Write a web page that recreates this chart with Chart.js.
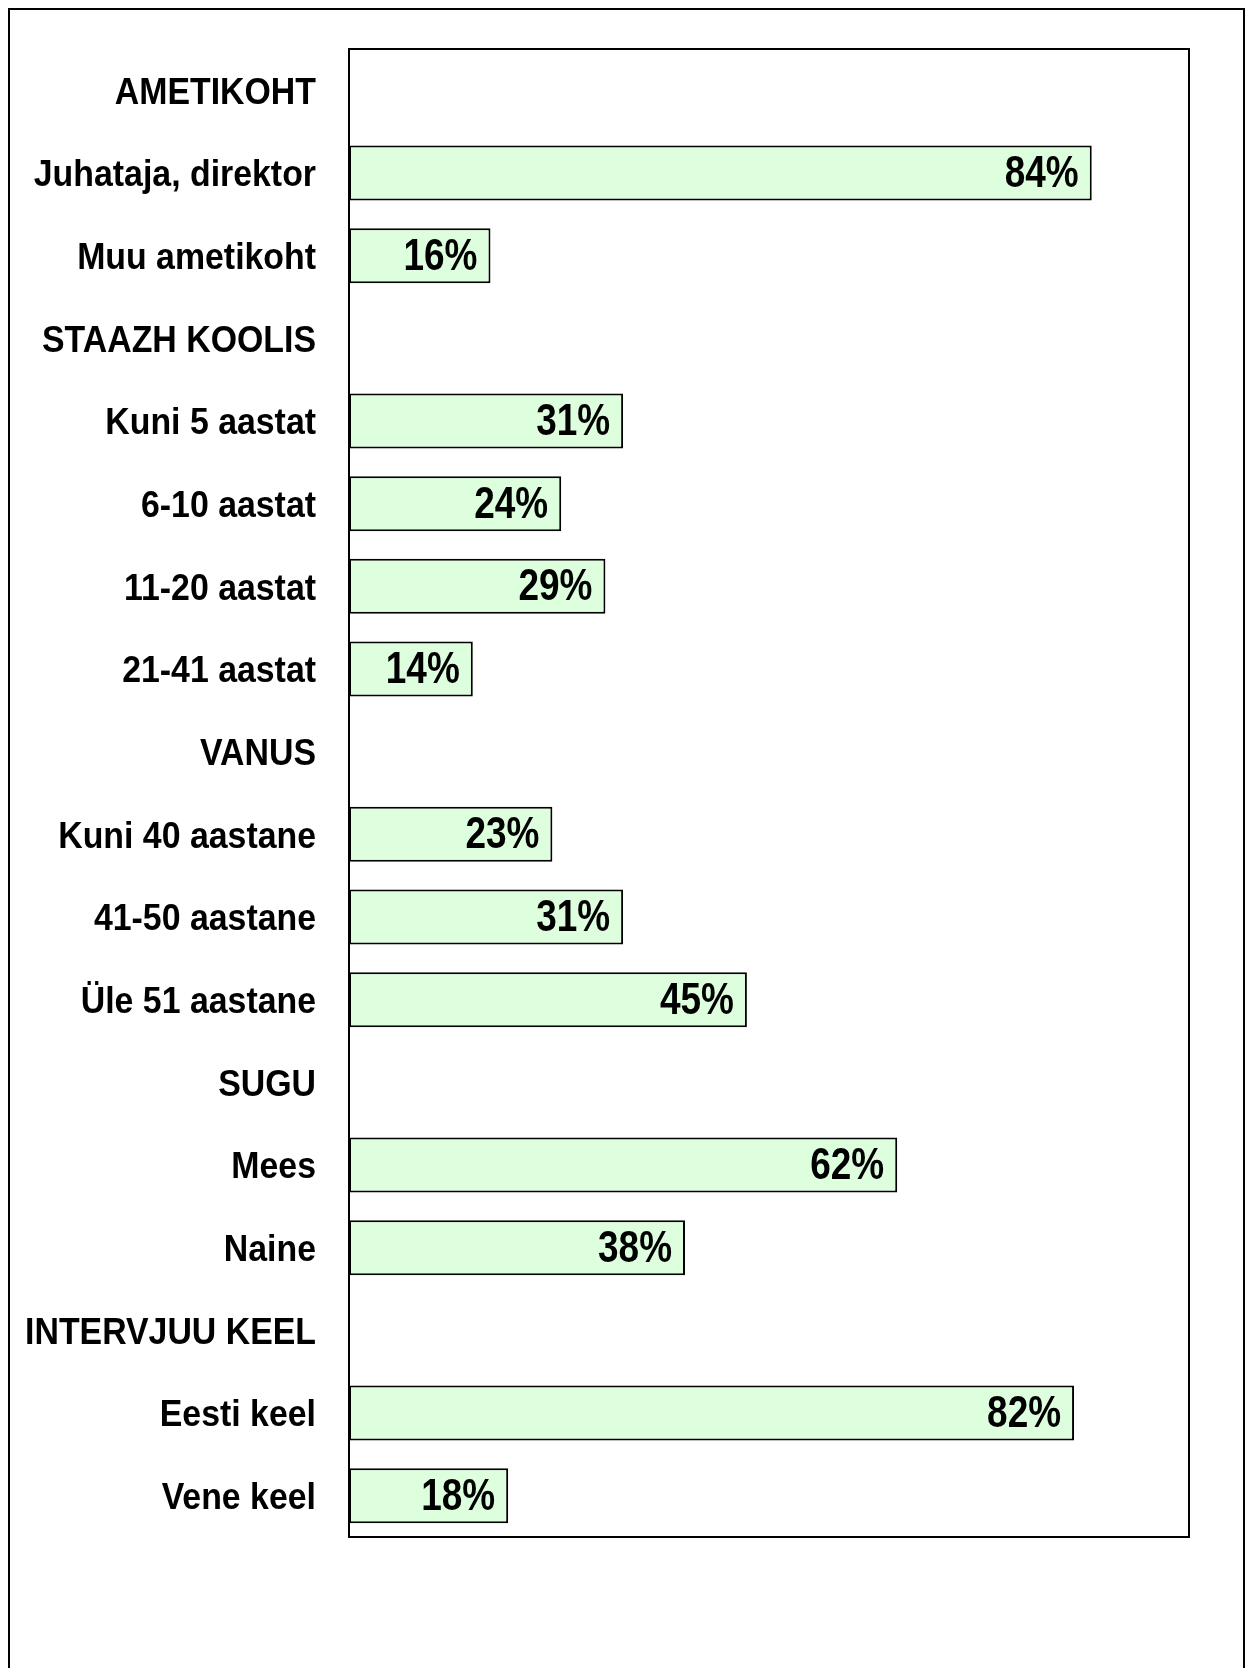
<!DOCTYPE html>
<html>
<head>
<meta charset="utf-8">
<script src="https://cdn.jsdelivr.net/npm/chart.js@4/dist/chart.umd.min.js"></script>
<style>
  html, body { margin: 0; padding: 0; background: #fff; }
  body { width: 1247px; height: 1668px; position: relative; overflow: hidden; }
  #frame { position: absolute; left: 8px; top: 8px; width: 1233px; height: 1700px; border: 2px solid #000; }
  #wrap { position: absolute; left: 0; top: 0; width: 1247px; height: 1668px; }
</style>
</head>
<body>
<div id="frame"></div>
<div id="wrap"><canvas id="c" width="1247" height="1668"></canvas></div>
<script>
const categories = [
  "AMETIKOHT", "Juhataja, direktor", "Muu ametikoht",
  "STAAZH KOOLIS", "Kuni 5 aastat", "6-10 aastat", "11-20 aastat", "21-41 aastat",
  "VANUS", "Kuni 40 aastane", "41-50 aastane", "Üle 51 aastane",
  "SUGU", "Mees", "Naine",
  "INTERVJUU KEEL", "Eesti keel", "Vene keel"
];
const values = [
  null, 84, 16,
  null, 31, 24, 29, 14,
  null, 23, 31, 45,
  null, 62, 38,
  null, 82, 18
];
const axisMax = 95;

const FONT = '"Liberation Sans", Arial, sans-serif';

const framePlugin = {
  id: 'frame',
  afterDatasetsDraw(chart) {
    const a = chart.chartArea, ctx = chart.ctx;
    ctx.save();
    ctx.strokeStyle = '#000';
    ctx.lineWidth = 2;
    ctx.strokeRect(a.left, a.top, a.right - a.left, a.bottom - a.top);
    ctx.restore();
  }
};

// Narrow (condensed) text, as in the original Arial Narrow look
function narrowText(ctx, text, x, y, sx) {
  ctx.save();
  ctx.translate(x, y);
  ctx.scale(sx, 1);
  ctx.fillText(text, 0, 0);
  ctx.restore();
}

const categoryLabels = {
  id: 'categoryLabels',
  afterDraw(chart) {
    const ctx = chart.ctx;
    const y = chart.scales.y;
    ctx.save();
    ctx.font = 'bold 37px ' + FONT;
    ctx.fillStyle = '#000';
    ctx.textAlign = 'right';
    ctx.textBaseline = 'middle';
    chart.data.labels.forEach((lab, i) => {
      narrowText(ctx, lab, chart.chartArea.left - 33, y.getPixelForValue(i) + 3, 0.915);
    });
    ctx.restore();
  }
};

const valueLabels = {
  id: 'valueLabels',
  afterDatasetsDraw(chart) {
    const ctx = chart.ctx;
    const meta = chart.getDatasetMeta(0);
    ctx.save();
    ctx.font = 'bold 44px ' + FONT;
    ctx.fillStyle = '#000';
    ctx.textAlign = 'right';
    ctx.textBaseline = 'middle';
    meta.data.forEach((el, i) => {
      const v = chart.data.datasets[0].data[i];
      if (v == null) return;
      narrowText(ctx, v + '%', el.x - 13, el.y + 2, 0.84);
    });
    ctx.restore();
  }
};

new Chart(document.getElementById('c'), {
  type: 'bar',
  data: {
    labels: categories,
    datasets: [{
      data: values,
      backgroundColor: '#DDFFDD',
      borderColor: '#000',
      borderWidth: 2,
      borderSkipped: false,
      barPercentage: 0.665,
      categoryPercentage: 1.0
    }]
  },
  options: {
    indexAxis: 'y',
    responsive: false,
    animation: false,
    layout: { padding: { left: 0, top: 49, right: 58, bottom: 131 } },
    plugins: { legend: { display: false }, tooltip: { enabled: false } },
    scales: {
      x: {
        display: false,
        min: 0, max: axisMax,
        grid: { display: false }
      },
      y: {
        grid: { display: false, drawTicks: false },
        border: { display: false },
        ticks: { display: false },
        afterFit(scale) { scale.width = 349; }
      }
    }
  },
  plugins: [framePlugin, valueLabels, categoryLabels]
});
</script>
</body>
</html>
